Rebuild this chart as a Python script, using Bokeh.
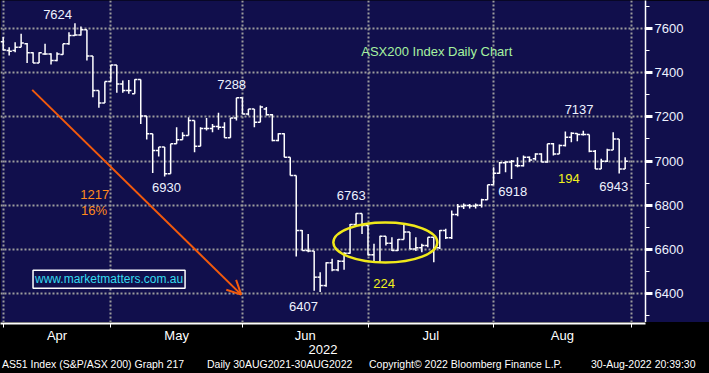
from bokeh.plotting import figure
from bokeh.models import (Range1d, FixedTicker, ColumnDataSource, LabelSet, Label,
                          Arrow, OpenHead, Div)
from bokeh.layouts import column
from bokeh.embed import file_html
from bokeh.resources import INLINE
from bokeh.core.properties import value

# ---------------- data (ASX200 daily OHLC, 1 Apr - 30 Aug 2022, trading-day index) -------------
opens = [7540, 7500, 7500, 7515, 7531, 7490, 7444, 7485, 7485, 7455,
         7482, 7531, 7568, 7571, 7594, 7475, 7319, 7263, 7360, 7435,
         7349, 7319, 7304, 7369, 7204, 7123, 7047, 7063, 6942, 7078,
         7096, 7115, 7183, 7067, 7147, 7147, 7156, 7153, 7105, 7195,
         7286, 7213, 7236, 7176, 7236, 7210, 7093, 7123, 7017, 6934,
         6685, 6595, 6592, 6474, 6436, 6539, 6507, 6546, 6582, 6712,
         6762, 6708, 6575, 6542, 6659, 6628, 6595, 6644, 6678, 6602,
         6607, 6617, 6655, 6607, 6685, 6652, 6758, 6794, 6798, 6796,
         6800, 6824, 6892, 6945, 6992, 6995, 6980, 6978, 7017, 7010,
         7032, 6995, 7078, 7032, 7070, 7108, 7124, 7120, 7120, 7044,
         6964, 6999, 7050, 7100, 6964]
highs = [7561, 7515, 7538, 7576, 7534, 7493, 7493, 7531, 7488, 7493,
         7531, 7583, 7624, 7609, 7594, 7475, 7319, 7360, 7435, 7435,
         7364, 7367, 7370, 7369, 7204, 7123, 7063, 7063, 7078, 7153,
         7130, 7198, 7183, 7153, 7195, 7168, 7218, 7176, 7195, 7286,
         7288, 7236, 7236, 7251, 7244, 7213, 7126, 7126, 7017, 6934,
         6688, 6670, 6592, 6496, 6542, 6557, 6552, 6587, 6715, 6763,
         6762, 6708, 6625, 6662, 6659, 6655, 6647, 6715, 6678, 6655,
         6625, 6655, 6655, 6688, 6693, 6776, 6805, 6808, 6805, 6808,
         6829, 6893, 6972, 6995, 6999, 7005, 7017, 7025, 7020, 7035,
         7035, 7078, 7081, 7075, 7134, 7130, 7126, 7137, 7120, 7050,
         7010, 7055, 7130, 7100, 7017]
lows = [7500, 7478, 7493, 7515, 7444, 7444, 7444, 7481, 7437, 7452,
        7481, 7526, 7568, 7568, 7455, 7289, 7241, 7263, 7360, 7309,
        7309, 7304, 7304, 7168, 7097, 6946, 7020, 6930, 6942, 7078,
        7096, 7115, 7040, 7067, 7138, 7130, 7141, 7105, 7105, 7183,
        7213, 7206, 7153, 7176, 7206, 7090, 7090, 7017, 6934, 6567,
        6595, 6587, 6413, 6407, 6431, 6501, 6501, 6507, 6580, 6708,
        6670, 6572, 6539, 6539, 6617, 6592, 6592, 6644, 6602, 6592,
        6587, 6610, 6542, 6602, 6647, 6647, 6750, 6783, 6785, 6785,
        6790, 6824, 6892, 6942, 6949, 6918, 6972, 6975, 6995, 7002,
        6995, 6992, 7025, 7032, 7066, 7085, 7090, 7115, 7040, 6964,
        6964, 6995, 7050, 6943, 6964]
closes = [7503, 7497, 7515, 7534, 7490, 7444, 7490, 7485, 7455, 7485,
          7531, 7568, 7571, 7594, 7475, 7319, 7263, 7360, 7435, 7349,
          7319, 7319, 7369, 7204, 7123, 7047, 7063, 6942, 7078, 7096,
          7115, 7183, 7067, 7147, 7147, 7156, 7153, 7105, 7195, 7286,
          7213, 7236, 7176, 7244, 7210, 7093, 7123, 7017, 6934, 6685,
          6595, 6592, 6474, 6436, 6539, 6507, 6546, 6582, 6712, 6762,
          6708, 6575, 6542, 6659, 6628, 6595, 6644, 6678, 6602, 6607,
          6617, 6655, 6607, 6685, 6652, 6758, 6794, 6798, 6796, 6800,
          6824, 6892, 6945, 6992, 6995, 6999, 6978, 7017, 7005, 7032,
          6995, 7078, 7032, 7070, 7108, 7126, 7120, 7120, 7044, 6964,
          6999, 7050, 7100, 6964, 6998.331]
last_price = 6998.331

month_names = ["Apr", "May", "Jun", "Jul", "Aug"]
year_label = "2022"
month_starts = [0, 18, 40, 61, 82, 105]          # trading-day index of each month's first bar
y_major = [6400, 6600, 6800, 7000, 7200, 7400, 7600]
y_minor = [6300, 6500, 6700, 6900, 7100, 7300, 7500, 7700]

note_text = ["7624", "7288", "6930", "6763", "6407", "7137", "6918", "6943",
             "194", "224", "1217", "16%", "ASX200 Index Daily Chart"]
note_x = [9.1, 38.2, 27.3, 58.2, 50.2, 96.3, 85.2, 102.1, 94.6, 63.7, 15.3, 15.2, 72.5]
note_y = [7663, 7346, 6878, 6846, 6343, 7235, 6862, 6884, 6923, 6445, 6850, 6776, 7498]
note_color = ["#eef2ff"] * 8 + ["#f2f21e", "#f2f21e", "#ff8a1c", "#ff8a1c", "#a6f2a0"]

arrow_start = (4.85, 7322)
arrow_end = (39.8, 6395)
ellipse_center = (63.9, 6631)
ellipse_size = (17.4, 181)
website = "www.marketmatters.com.au"
website_pos = (17.7, 6465)

footer = ["AS51 Index (S&amp;P/ASX 200) Graph 217", "Daily 30AUG2021-30AUG2022",
          "Copyright&copy; 2022 Bloomberg Finance L.P.", "30-Aug-2022 20:39:30"]
footer_px = [2, 207, 369, 591]

# ---------------- styling ----------------
NAVY = "#110f4c"
FONT = "Liberation Sans"
x_rng = Range1d(-0.45, 107.4)
y_rng = Range1d(6268.7, 7726.8)

p = figure(width=709, height=322, x_range=x_rng, y_range=y_rng,
           output_backend="svg", toolbar_location=None,
           x_axis_location=None, y_axis_location="right",
           min_border_left=0, min_border_top=0, min_border_bottom=0, min_border_right=64)
p.background_fill_color = NAVY
p.border_fill_color = NAVY
p.outline_line_color = None

ya = p.yaxis[0]
ya.ticker = FixedTicker(ticks=y_major, minor_ticks=y_minor)
ya.axis_line_color = "white"
ya.axis_line_width = 1.5
ya.major_tick_line_color = "white"
ya.major_tick_line_width = 3
ya.major_tick_out = 7
ya.major_tick_in = 0
ya.minor_tick_line_color = "white"
ya.minor_tick_out = 4
ya.minor_tick_in = 0
ya.major_label_standoff = 2
ya.major_label_text_color = "#eef2ff"
ya.major_label_text_font = FONT
ya.major_label_text_font_size = "13px"

p.ygrid.ticker = FixedTicker(ticks=y_major)
p.xgrid.ticker = FixedTicker(ticks=month_starts)
for g in (p.xgrid, p.ygrid):
    g.grid_line_color = "#9c9c9c"
    g.grid_line_dash = "2 2"
    g.grid_line_width = 2

xs = list(range(len(opens)))
src = ColumnDataSource(dict(x=xs, o=opens, h=highs, l=lows, c=closes,
                            xl=[x - 0.45 for x in xs], xr=[x + 0.45 for x in xs]))
p.segment(x0="x", y0="l", x1="x", y1="h", source=src, line_color="white", line_width=1.5)
p.segment(x0="xl", y0="o", x1="x", y1="o", source=src, line_color="white", line_width=1.5)
p.segment(x0="x", y0="c", x1="xr", y1="c", source=src, line_color="white", line_width=1.5)

p.ellipse(x=[ellipse_center[0]], y=[ellipse_center[1]], width=[ellipse_size[0]],
          height=[ellipse_size[1]], fill_color=None, line_color="#f0e81a", line_width=2.5)

p.add_layout(Arrow(end=OpenHead(size=14, line_color="#f25a0c", line_width=2),
                   x_start=arrow_start[0], y_start=arrow_start[1],
                   x_end=arrow_end[0], y_end=arrow_end[1],
                   line_color="#f25a0c", line_width=2))

nsrc = ColumnDataSource(dict(x=note_x, y=note_y, text=note_text, color=note_color))
p.add_layout(LabelSet(x="x", y="y", text="text", text_color="color", source=nsrc,
                      text_font=value(FONT), text_font_size="13px",
                      text_align="center", text_baseline="middle"))

p.add_layout(Label(x=website_pos[0], y=website_pos[1], text=website, text_color="#35dcf0",
                   text_font=FONT, text_font_size="12px", text_align="center",
                   text_baseline="middle", background_fill_color=NAVY,
                   border_line_color="white", border_line_width=1.5, padding=2))

p.add_layout(Label(x=108.1, y=last_price, text=f"{last_price:.3f}", text_color="black",
                   text_font=FONT, text_font_size="13px", text_align="left",
                   text_baseline="middle", background_fill_color="white", padding=2))

# ---------------- bottom strip with the time axis ----------------
p2 = figure(width=709, height=35, x_range=x_rng, y_range=Range1d(0, 1),
            output_backend="svg", toolbar_location=None,
            x_axis_location="below", y_axis_location=None,
            min_border_left=0, min_border_top=0, min_border_bottom=34, min_border_right=64)
p2.background_fill_color = "black"
p2.border_fill_color = "black"
p2.outline_line_color = None
p2.xgrid.visible = False
p2.ygrid.visible = False

centers = [(month_starts[i] + month_starts[i + 1]) / 2 for i in range(len(month_names))]
xa = p2.xaxis[0]
xa.ticker = FixedTicker(ticks=centers, minor_ticks=month_starts)
xa.major_label_overrides = {c: n for c, n in zip(centers, month_names)}
xa.axis_line_color = "white"
xa.axis_line_width = 2
xa.major_tick_out = 0
xa.major_tick_in = 0
xa.minor_tick_line_color = "white"
xa.minor_tick_out = 4
xa.minor_tick_in = 0
xa.major_label_standoff = 0
xa.major_label_text_color = "white"
xa.major_label_text_font = FONT
xa.major_label_text_font_size = "13px"
xa.axis_label = year_label
xa.axis_label_standoff = -1
xa.axis_label_text_font = FONT
xa.axis_label_text_font_style = "normal"
xa.axis_label_text_font_size = "13px"
xa.axis_label_text_color = "white"

# ---------------- footer strip ----------------
spans = "".join(
    f'<span style="position:absolute;left:{fx}px;top:0px;">{t}</span>'
    for t, fx in zip(footer, footer_px))
footer_html = (
    '<div style="position:relative;width:709px;height:16px;overflow:hidden;'
    "background:black;color:white;font-family:'Liberation Sans';font-size:10.5px;"
    f'line-height:15px;white-space:pre;">{spans}</div>')
foot = Div(text=footer_html, width=709, height=16, margin=(0, 0, 0, 0),
           styles={"background-color": "black"})

layout = column(p, p2, foot, spacing=0, styles={"background-color": "black"})
open("out.html", "w").write(file_html(layout, INLINE))
